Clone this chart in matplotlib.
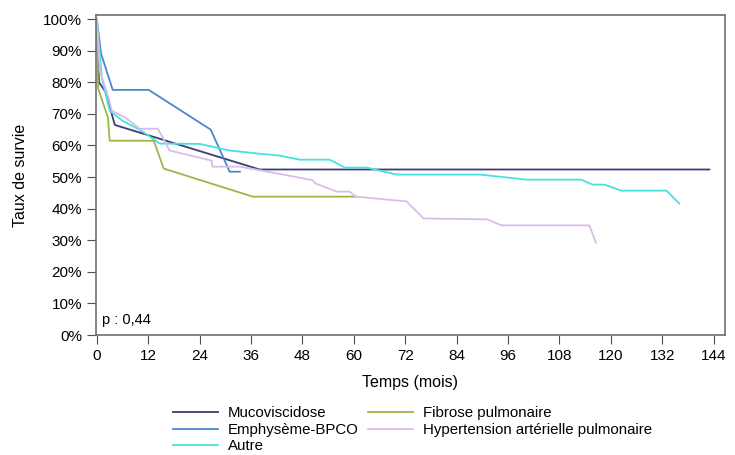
import matplotlib
matplotlib.use("Agg")
import matplotlib.pyplot as plt
from matplotlib.ticker import FuncFormatter

plt.rcParams['font.family'] = ['Liberation Sans', 'DejaVu Sans']

# survival curves, (months, % survival)
muco_t = [0, 0.5, 2, 4.2, 38, 143]
muco_s = [100, 80, 77, 66.5, 52.4, 52.4]

emph_t = [0, 1, 3.7, 12.1, 26.6, 31, 33.4]
emph_s = [100, 89, 77.6, 77.6, 65, 51.7, 51.7]

fib_t = [0, 0.3, 2.6, 3, 13.3, 15.6, 36.4, 60.7]
fib_s = [100, 78, 68.8, 61.5, 61.5, 52.7, 43.8, 43.8]

hta_t = [0, 0.7, 2.6, 3.5, 7, 10, 14.2, 15.2, 17, 26.8, 27, 33.4, 42.7, 50.4, 51,
         56, 59, 60.5, 72.3, 73.7, 76.3, 91.2, 94.5, 115, 116.5]
hta_s = [100, 83.6, 75.7, 71, 68.5, 65.3, 65.3, 63, 58.4, 55.2, 53.3, 53.3, 51, 49, 48,
         45.4, 45.4, 43.8, 42.3, 40.4, 36.9, 36.6, 34.7, 34.7, 29.3]

autre_t = [0, 1.2, 3, 6, 10, 14.7, 24, 31, 38, 42.7, 47.4, 54.4, 57.9, 63, 70,
           89.4, 100.3, 113, 115.8, 118.5, 122.5, 133, 136]
autre_s = [100, 81, 71, 67.8, 65, 60.6, 60.5, 58.4, 57.4, 56.8, 55.5, 55.5, 53, 53, 50.8,
           50.8, 49.2, 49.2, 47.6, 47.6, 45.7, 45.7, 41.6]

labels = ["Mucoviscidose", "Emphysème-BPCO", "Autre",
          "Fibrose pulmonaire", "Hypertension artérielle pulmonaire"]
colors = ["#3c3c78", "#4a88cc", "#48e0e0", "#9ab84a", "#d9bce8"]

fig = plt.figure(figsize=(7.35, 4.55), dpi=100)
ax = fig.add_axes([0.1306, 0.2637, 0.8554, 0.7033])

series = [(muco_t, muco_s), (emph_t, emph_s), (autre_t, autre_s),
          (fib_t, fib_s), (hta_t, hta_s)]
for (t, s), lab, col in zip(series, labels, colors):
    ax.plot(t, s, color=col, lw=1.3, label=lab)

ax.set_xlim(-0.2, 146.6)
ax.set_ylim(0, 101.3)
ax.set_xticks(range(0, 145, 12))
ax.set_yticks(range(0, 101, 10))
ax.yaxis.set_major_formatter(FuncFormatter(lambda v, p: "%d%%" % v))
ax.tick_params(direction="out", length=6.5, color="#505050", labelsize=11, pad=3.5)
for sp in ax.spines.values():
    sp.set_color("#707070")
    sp.set_linewidth(1.2)

ax.set_xlabel("Temps (mois)", fontsize=11.5, labelpad=9)
ax.set_ylabel("Taux de survie", fontsize=11.5, labelpad=11)
ax.text(0.01, 0.035, "p : 0,44", transform=ax.transAxes, fontsize=10.5)

handles, labs = ax.get_legend_handles_labels()
fig.legend(handles, labs, ncol=2, loc="upper left", bbox_to_anchor=(0.2354, 0.107),
           frameon=False, fontsize=10.8, handlelength=3.0, handletextpad=0.65,
           columnspacing=0.65, labelspacing=0.17, borderpad=0, borderaxespad=0)

plt.savefig("out.png")
plt.close()
